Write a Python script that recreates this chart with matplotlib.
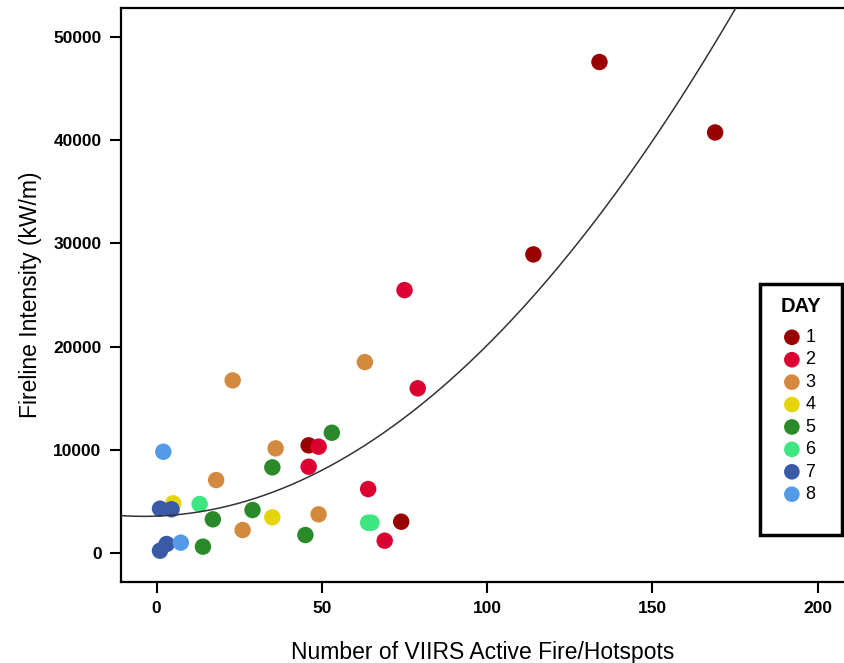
import numpy as np
import matplotlib
matplotlib.use("Agg")
import matplotlib.pyplot as plt
from matplotlib.patches import Rectangle

plt.rcParams['font.family'] = ['Liberation Sans', 'DejaVu Sans']

# data: hotspots (x) and fireline intensity (y) per day
days = ['1', '2', '3', '4', '5', '6', '7', '8']
colors = ['#990000', '#dc0032', '#d38a3f', '#e3d40c', '#2a8a2a', '#3ee682', '#3a5aa8', '#559ae6']

x_day1 = [134, 169, 114, 46, 74]
y_day1 = [47560, 40740, 28935, 10450, 3060]
x_day2 = [75, 79, 49, 46, 64, 69]
y_day2 = [25480, 15970, 10320, 8380, 6220, 1220]
x_day3 = [23, 63, 36, 18, 26, 49]
y_day3 = [16740, 18510, 10160, 7090, 2250, 3770]
x_day4 = [5, 35]
y_day4 = [4840, 3480]
x_day5 = [53, 35, 29, 17, 45, 14]
y_day5 = [11670, 8320, 4190, 3290, 1770, 640]
x_day6 = [13, 64, 65]
y_day6 = [4770, 2960, 2960]
x_day7 = [1, 4.5, 1, 3]
y_day7 = [4320, 4260, 250, 900]
x_day8 = [2, 7.3]
y_day8 = [9830, 1030]

xs = [x_day1, x_day2, x_day3, x_day4, x_day5, x_day6, x_day7, x_day8]
ys = [y_day1, y_day2, y_day3, y_day4, y_day5, y_day6, y_day7, y_day8]

# quadratic fit line coefficients
fit_a, fit_b, fit_c = 3600, 12.2, 1.532

W, H = 844, 663
fig = plt.figure(figsize=(W / 100, H / 100), dpi=100)
ax = fig.add_axes([121 / W, (H - 581.7) / H, (W - 121) / W, (581.7 - 8.3) / H])

handles = []
for d, c, xv, yv in zip(days, colors, xs, ys):
    h = ax.scatter(xv, yv, s=140, color=c, edgecolors='none', zorder=3, label=d)
    handles.append(h)

xx = np.linspace(-12, 210, 400)
ax.plot(xx, fit_a + fit_b * xx + fit_c * xx ** 2, color='#333333', lw=1.1, zorder=4)

ax.set_xlim(-10.8, 208.0)
ax.set_ylim(-2750, 52760)
ax.set_xticks([0, 50, 100, 150, 200])
ax.set_yticks([0, 10000, 20000, 30000, 40000, 50000])
ax.spines['right'].set_visible(False)
for s in ['left', 'bottom', 'top']:
    ax.spines[s].set_linewidth(1.6)
ax.tick_params(direction='out', length=8, width=1.5, labelsize=12.5, pad=6)
for lab in ax.get_xticklabels() + ax.get_yticklabels():
    lab.set_fontweight('bold')

ax.set_xlabel('Number of VIIRS Active Fire/Hotspots', fontsize=16.5, labelpad=18)
ax.set_ylabel('Fireline Intensity (kW/m)', fontsize=16.5, labelpad=8)

# legend box
fig.patches.append(Rectangle((760 / W, (H - 535) / H), 82 / W, 251 / H,
                             transform=fig.transFigure, fill=False,
                             edgecolor='black', lw=2.5, zorder=5))
fig.text(801 / W, 1 - 306 / H, 'DAY', ha='center', va='center',
         fontsize=14.5, fontweight='bold')
leg = ax.legend(handles=handles, loc='upper left',
                bbox_to_anchor=(772 / W, 1 - 320 / H), bbox_transform=fig.transFigure,
                frameon=False, fontsize=13,
                labelspacing=0.3, handletextpad=0.15, handlelength=1.2,
                borderpad=0, markerscale=0.95)

fig.savefig('out.png', dpi=100)
